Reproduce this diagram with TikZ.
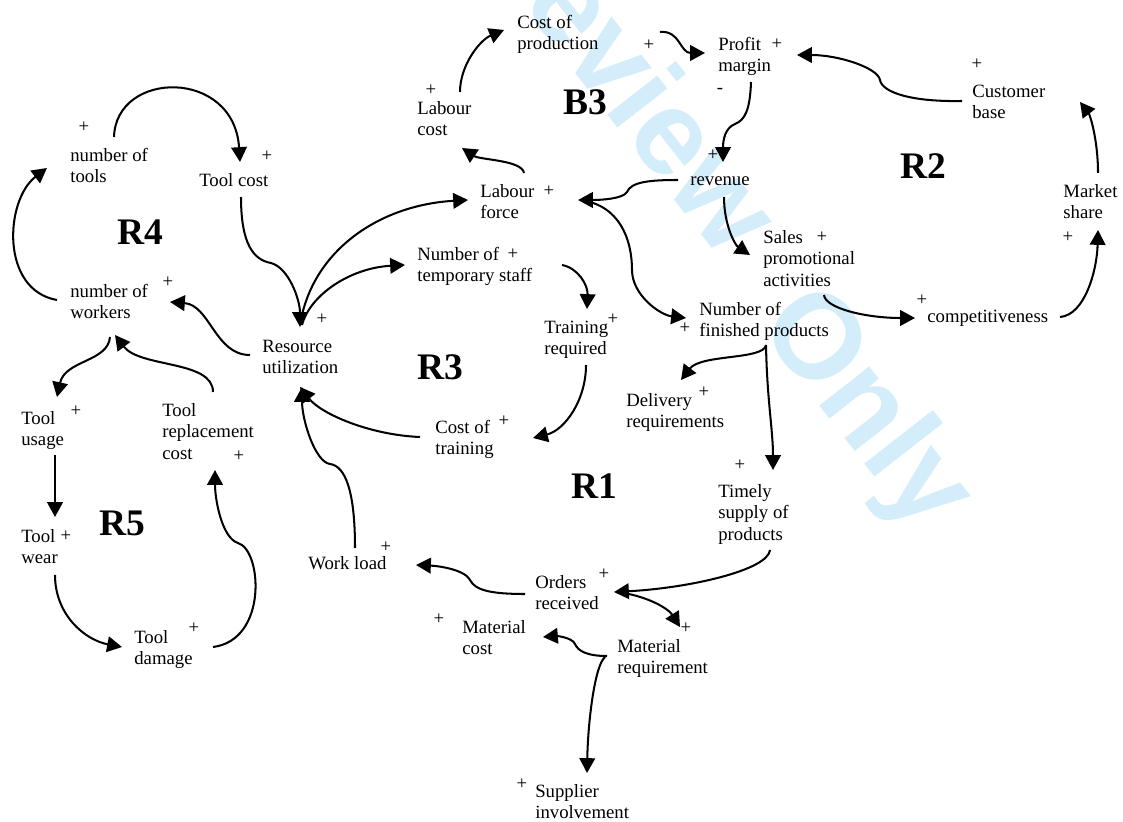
\documentclass[tikz,border=0pt]{standalone}
\usepackage{fontspec}
\setmainfont{Liberation Serif}
\newfontfamily\wmfont{Liberation Sans}
\usetikzlibrary{arrows.meta, calc}
\definecolor{wmblue}{RGB}{212,237,250}

\begin{document}
\begin{tikzpicture}[x=0.64pt, y=-0.64pt, >={Triangle[length=9.5pt, width=10pt]},
			var/.style={anchor=base west, inner sep=0pt, align=left, font=\fontsize{12}{13.8}\selectfont},
			sgn/.style={inner sep=0pt, font=\fontsize{12}{13.8}\selectfont},
			loopname/.style={font=\fontsize{24}{28}\selectfont\bfseries},
			link/.style={->, line width=1.3pt}]
			
			\useasboundingbox (0,0) rectangle (1123,822);
			
			% Filigrana
			\node[rotate=-52, anchor=base, text=wmblue, font=\wmfont\bfseries\fontsize{77}{80}\selectfont] (wm1) at (582,82) {Preview};
			\node[rotate=-52, anchor=base, text=wmblue, font=\wmfont\bfseries\fontsize{77}{80}\selectfont] (wm2) at (839,431) {Only};
			
			% Variabili (ancorate alla linea di base dell'ultima riga)
			\node[var] (tools) at (70,182.6) {number of\\tools};
			\node[var] (toolcost) at (199,187) {Tool cost};
			\node[var] (workers) at (70,318.6) {number of\\workers};
			\node[var] (ru) at (262,373.6) {Resource\\utilization};
			\node[var] (usage) at (21,445.6) {Tool\\usage};
			\node[var] (repl) at (162,459.2) {Tool\\replacement\\cost};
			\node[var] (wear) at (21,563.6) {Tool\\wear};
			\node[var] (damage) at (134,664.6) {Tool\\damage};
			\node[var] (workload) at (308,569) {Work load};
			\node[var] (labcost) at (417,135.6) {Labour\\cost};
			\node[var] (costprod) at (517,49.6) {Cost of\\production};
			\node[var] (profit) at (718,71.6) {Profit\\margin};
			\node[var] (revenue) at (690,186) {revenue};
			\node[var] (labforce) at (480,218.6) {Labour\\force};
			\node[var] (tempstaff) at (417,281.6) {Number of\\temporary staff};
			\node[var] (training) at (544,354.6) {Training\\required};
			\node[var] (finished) at (699,336.6) {Number of\\finished products};
			\node[var] (sales) at (763,286.2) {Sales\\promotional\\activities};
			\node[var] (customer) at (972,118.6) {Customer\\base};
			\node[var] (market) at (1063,218.6) {Market\\share};
			\node[var] (compet) at (927,323) {competitiveness};
			\node[var] (costtrain) at (435,454.6) {Cost of\\training};
			\node[var] (delivery) at (626,427.6) {Delivery\\requirements};
			\node[var] (timely) at (718,540.2) {Timely\\supply of\\products};
			\node[var] (orders) at (535,609.6) {Orders\\received};
			\node[var] (matcost) at (462,654.6) {Material\\cost};
			\node[var] (matreq) at (617,673.6) {Material\\requirement};
			\node[var] (supplier) at (535,818.6) {Supplier\\involvement};
			
			% Segni
			\node[sgn] (ptools) at (84,127) {+};
			\node[sgn] (ptoolcost) at (267,156) {+};
			\node[sgn] (pworkers) at (168,282) {+};
			\node[sgn] (pru) at (322,319) {+};
			\node[sgn] (pusage) at (76,411) {+};
			\node[sgn] (prepl) at (239,456) {+};
			\node[sgn] (pwear) at (66,536) {+};
			\node[sgn] (pdamage) at (194,628) {+};
			\node[sgn] (pworkload) at (386,547) {+};
			\node[sgn] (plabcost) at (431,90) {+};
			\node[sgn] (pcostprod) at (649,45) {+};
			\node[sgn] (pprofit) at (777,44) {+};
			\node[sgn] (mprofit) at (720,91) {-};
			\node[sgn] (prevenue) at (713,155) {+};
			\node[sgn] (plabforce) at (549,191) {+};
			\node[sgn] (ptempstaff) at (513,254) {+};
			\node[sgn] (ptraining) at (613,319) {+};
			\node[sgn] (pfinished) at (685,328) {+};
			\node[sgn] (psales) at (822,237) {+};
			\node[sgn] (pcustomer) at (977,64) {+};
			\node[sgn] (pmarket) at (1068,237) {+};
			\node[sgn] (pcompet) at (922,300) {+};
			\node[sgn] (pcosttrain) at (504,421) {+};
			\node[sgn] (pdelivery) at (704,392) {+};
			\node[sgn] (ptimely) at (740,465) {+};
			\node[sgn] (porders) at (604,574) {+};
			\node[sgn] (pmatcost) at (439,619) {+};
			\node[sgn] (pmatreq) at (686,628) {+};
			\node[sgn] (psupplier) at (522,784) {+};
			
			% Anelli
			\node[loopname] (r4) at (140,232) {R4};
			\node[loopname] (b3) at (585,102) {B3};
			\node[loopname] (r2) at (923,166) {R2};
			\node[loopname] (r3) at (440,367) {R3};
			\node[loopname] (r1) at (594,486) {R1};
			\node[loopname] (r5) at (122,523) {R5};
			
			% R4
			\draw[link] ($(tools.base west)+(44,-45.6)$) .. controls +(2,-67) and +(-6,-94) .. ($(toolcost.base west)+(41,-25)$);
			\draw[link] ($(toolcost.base west)+(42,10)$) .. controls +(0,48) and +(-17,-3) .. ++(30,66) .. controls +(18,5) and +(0,-27) .. ($(ru.base west)+(38,-46.6)$);
			\draw[link] ($(ru.base west)+(-12,-18.6)$) .. controls +(-35,0) and +(40,3) .. ($(workers.base west)+(100,-16.6)$);
			\draw[link] ($(workers.base west)+(-13,-18.6)$) .. controls +(-57,-10) and +(-42,32) .. ($(tools.base west)+(-23,-14.6)$);
			
			% R5
			\draw[link] ($(workers.base west)+(40,18.4)$) .. controls +(-2,25) and +(8,-37) .. ($(usage.base west)+(36,-48.6)$);
			\draw[link] ($(repl.base west)+(51,-67.2)$) .. controls +(0,-32) and +(25,33) .. ($(workers.base west)+(45,16.4)$);
			\draw[link] ($(usage.base west)+(34,9.4)$) -- ($(wear.base west)+(34,-46.6)$);
			\draw[link] ($(wear.base west)+(34,11.4)$) .. controls +(0,40) and +(-37,-7) .. ($(damage.base west)+(-12,-17.6)$);
			\draw[link] ($(damage.base west)+(79,-17.6)$) .. controls +(55,-7) and +(24,7) .. ++(25,-104) .. controls +(-16,-5) and +(0,30) .. ($(repl.base west)+(53,10.8)$);
			
			% R3
			\draw[link] ($(ru.base west)+(38,-48.6)$) .. controls +(12,-75) and +(-88,5) .. ($(labforce.base west)+(-12,-18.6)$);
			\draw[link] ($(ru.base west)+(40,-48.6)$) .. controls +(8,-30) and +(-55,3) .. ($(tempstaff.base west)+(-12,-16.6)$);
			\draw[link] ($(tempstaff.base west)+(145,-16.6)$) .. controls +(16,3) and +(1,-24) .. ($(training.base west)+(43,-45.6)$);
			\draw[link] ($(training.base west)+(42,10.4)$) .. controls +(0,35) and +(32,-8) .. ($(costtrain.base west)+(98,-16.6)$);
			\draw[link] ($(costtrain.base west)+(-15,-17.6)$) .. controls +(-50,-2) and +(21,27) .. ($(ru.base west)+(38,13.4)$);
			\draw[link] ($(workload.base west)+(47,-21)$) .. controls +(0,-58) and +(15,2) .. ++(-25,-84) .. controls +(-15,-2) and +(0,33) .. ($(ru.base west)+(40,13.4)$);
			
			% B3
			\draw[link] ($(labforce.base west)+(44,-45.6)$) .. controls +(-2,-13) and +(18,12) .. ($(labcost.base west)+(45,12.4)$);
			\draw[link] ($(labcost.base west)+(43,-43.6)$) .. controls +(0,-27) and +(-24,10) .. ($(costprod.base west)+(-13,-19.6)$);
			\draw[link] ($(costprod.base west)+(143,-17.6)$) .. controls +(20,-2) and +(-25,0) .. ($(profit.base west)+(-13,-18.6)$);
			\draw[link] ($(profit.base west)+(33,10.4)$) .. controls +(-1,28) and +(10,-4) .. ++(-16,42) .. controls +(-10,4) and +(0,-22) .. ($(revenue.base west)+(33,-24)$);
			\draw[link] ($(revenue.base west)+(-12,-6)$) .. controls +(-29,0) and +(4,-10) .. ++(-51,12) .. controls +(-4,7) and +(22,0) .. ($(labforce.base west)+(98,-18.6)$);
			
			% R1
			\draw[link] ($(labforce.base west)+(100,-18.6)$) .. controls +(40,5) and +(0,-30) .. ++(52,70) .. controls +(0,25) and +(-26,-3) .. ($(finished.base west)+(-13,-18.6)$);
			\draw[link] ($(finished.base west)+(67,8.4)$) .. controls +(-2,15) and +(20,-26) .. ($(delivery.base west)+(55,-47.6)$);
			\draw[link] ($(finished.base west)+(67,8.4)$) .. controls +(1,55) and +(0,-40) .. ($(timely.base west)+(55,-70.2)$);
			\draw[link] ($(timely.base west)+(52,9.8)$) .. controls +(-2,20) and +(76,-4) .. ($(orders.base west)+(79,-17.6)$);
			\draw[link] ($(orders.base west)+(81,-17.6)$) .. controls +(29,3) and +(-12,-19) .. ($(matreq.base west)+(63,-46.6)$);
			\draw[link] ($(orders.base west)+(-10,-15.6)$) .. controls +(-35,0) and +(5,10) .. ++(-55,-14) .. controls +(-5,-10) and +(24,1) .. ($(workload.base west)+(108,-4)$);
			\draw[link] ($(matreq.base west)+(-10,-17.6)$) .. controls +(-20,0) and +(3,7) .. ++(-32,-12) .. controls +(-3,-7) and +(12,-1) .. ($(matcost.base west)+(81,-17.6)$);
			\draw[link] ($(matreq.base west)+(-12,-16.6)$) .. controls +(-10,8) and +(1,-53) .. ($(supplier.base west)+(52,-45.6)$);
			
			% R2
			\draw[link] ($(revenue.base west)+(34,11)$) .. controls +(0,28) and +(-15,-10) .. ($(sales.base west)+(-13,-31.2)$);
			\draw[link] ($(sales.base west)+(61,8.8)$) .. controls +(1,13) and +(-50,0) .. ($(compet.base west)+(-12,-5)$);
			\draw[link] ($(compet.base west)+(133,-6)$) .. controls +(25,-2) and +(-1,40) .. ($(market.base west)+(35,11.4)$);
			\draw[link] ($(market.base west)+(35,-45.6)$) .. controls +(0,-33) and +(10,13) .. ($(customer.base west)+(108,-16.6)$);
			\draw[link] ($(customer.base west)+(-10,-17.6)$) .. controls +(-52,1) and +(2,12) .. ++(-82,-21) .. controls +(-2,-12) and +(42,0) .. ($(profit.base west)+(79,-16.6)$);
		\end{tikzpicture}
\end{document}
